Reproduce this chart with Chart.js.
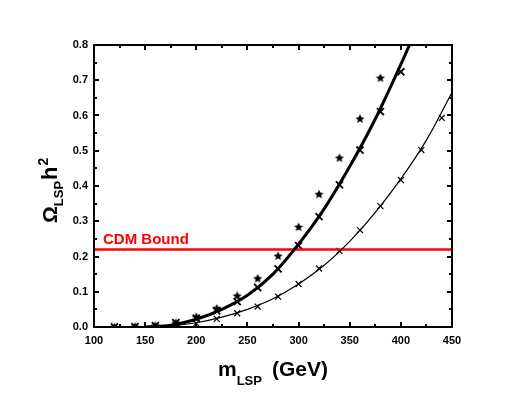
<!DOCTYPE html>
<html><head><meta charset="utf-8">
<script src="https://cdn.jsdelivr.net/npm/chart.js@4.4.1/dist/chart.umd.min.js"></script>
<style>html,body{margin:0;padding:0;background:#fff}#w{width:526px;height:393px}</style>
</head><body><div id="w"><canvas id="c"></canvas></div>
<script>
// ---- data ----
const starMass = [120,140,160,180,200,220,240,260,280,300,320,340,360,380];
const starOmega = [0.000,0.001,0.004,0.012,0.029,0.053,0.089,0.138,0.202,0.284,0.377,0.480,0.591,0.707];
const thickMass = [120,140,160,180,200,220,240,260,280,300,320,340,360,380,400];
const thickOmega = [0.000,0.001,0.004,0.012,0.025,0.046,0.072,0.112,0.165,0.231,0.313,0.403,0.502,0.611,0.724];
const thinMass = [180,200,220,240,260,280,300,320,340,360,380,400,420,440];
const thinOmega = [0.004,0.010,0.023,0.039,0.058,0.086,0.122,0.166,0.216,0.275,0.343,0.417,0.502,0.593];
const curveMass = [150,175,200,225,250,275,300,325,350,375,400,425];
const thickCurve = [0.000,0.005,0.022,0.050,0.090,0.150,0.235,0.335,0.455,0.590,0.745,0.910];
const thinCurveMass = [150,175,200,225,250,275,300,325,350,375,400,425,450];
const thinCurve = [0.000,0.003,0.012,0.028,0.050,0.080,0.122,0.175,0.243,0.325,0.420,0.530,0.665];
const cdmBound = 0.22;
const xRange = [100,450];
const yRange = [0,0.8];

const pts = (xs, ys) => xs.map((x,i)=>({x:x,y:ys[i]}));

// filled star marker
const starImg = document.createElement('canvas');
starImg.width = 10; starImg.height = 10;
(function(){
  const g = starImg.getContext('2d');
  g.fillStyle = '#000'; g.beginPath();
  for (let i=0;i<10;i++){
    const r = i%2===0 ? 4.8 : 2.2;
    const a = -Math.PI/2 + i*Math.PI/5;
    const px = 5 + r*Math.cos(a), py = 5.4 + r*Math.sin(a);
    i===0 ? g.moveTo(px,py) : g.lineTo(px,py);
  }
  g.closePath(); g.fill();
})();

const F = '"Liberation Sans", Arial, sans-serif';

const decor = {
  id:'decor',
  afterDraw(chart){
    const {ctx, chartArea:a, scales:{x,y}} = chart;
    ctx.save();
    ctx.strokeStyle = '#000'; ctx.lineWidth = 2;
    ctx.strokeRect(a.left, a.top, a.right-a.left, a.bottom-a.top);
    ctx.lineWidth = 2;
    for (let v=xRange[0]; v<=xRange[1]; v+=25){
      const px = Math.round(x.getPixelForValue(v));
      const L = (v%50===0)?5:3;
      ctx.beginPath();
      ctx.moveTo(px,a.bottom); ctx.lineTo(px,a.bottom-L);
      ctx.moveTo(px,a.top); ctx.lineTo(px,a.top+L);
      ctx.stroke();
    }
    for (let k=0; k<=16; k++){
      const v = k*0.05;
      const py = Math.round(y.getPixelForValue(v));
      const L = (k%2===0)?5:3;
      ctx.beginPath();
      ctx.moveTo(a.left,py); ctx.lineTo(a.left+L,py);
      ctx.moveTo(a.right,py); ctx.lineTo(a.right-L,py);
      ctx.stroke();
    }
    // CDM label
    ctx.fillStyle = '#ff0000';
    ctx.font = 'bold 15px '+F;
    ctx.textBaseline = 'alphabetic'; ctx.textAlign='left';
    ctx.fillText('CDM Bound', a.left+9, y.getPixelForValue(cdmBound)-5);
    // x title
    ctx.fillStyle = '#000';
    ctx.font = 'bold 21px '+F;
    let tx = 218, by = 376;
    ctx.fillText('m', tx, by); tx += ctx.measureText('m').width;
    ctx.font = 'bold 13px '+F;
    ctx.fillText('LSP', tx, by+9);
    ctx.font = 'bold 21px '+F;
    ctx.textAlign = 'right';
    ctx.fillText('(GeV)', 328, by);
    ctx.textAlign = 'left';
    // y title
    ctx.translate(57, 223); ctx.rotate(-Math.PI/2);
    let t = 0;
    ctx.font = 'bold 21px '+F;
    ctx.fillText('\u03A9', t, 0); t += ctx.measureText('\u03A9').width;
    ctx.font = 'bold 13px '+F;
    ctx.fillText('LSP', t, 6); t += ctx.measureText('LSP').width+1;
    ctx.font = 'bold 22px '+F;
    ctx.fillText('h', t, 0); t += ctx.measureText('h').width+1;
    ctx.font = 'bold 14px '+F;
    ctx.fillText('2', t, -9);
    ctx.restore();
  }
};

new Chart(document.getElementById('c'), {
  type:'scatter',
  data:{datasets:[
    {data:pts(thinCurveMass, thinCurve), showLine:true, borderColor:'#000', borderWidth:1.2, pointRadius:0, tension:0.4, cubicInterpolationMode:'monotone', fill:false},
    {data:pts(curveMass, thickCurve), showLine:true, borderColor:'#000', borderWidth:3, pointRadius:0, tension:0.4, cubicInterpolationMode:'monotone', fill:false},
    {data:[{x:xRange[0],y:cdmBound},{x:xRange[1],y:cdmBound}], showLine:true, borderColor:'#ff0000', borderWidth:2.5, pointRadius:0},
    {data:pts(thinMass, thinOmega), pointStyle:'crossRot', pointRadius:4.2, borderColor:'#000', borderWidth:1.2, showLine:false},
    {data:pts(thickMass, thickOmega), pointStyle:'crossRot', pointRadius:5, borderColor:'#000', borderWidth:1.8, showLine:false},
    {data:pts(starMass, starOmega), pointStyle:starImg, pointRadius:5, showLine:false}
  ]},
  options:{
    responsive:true, maintainAspectRatio:false, animation:false,
    layout:{padding:{left:0,top:45,right:74,bottom:0}},
    plugins:{legend:{display:false}, tooltip:{enabled:false}},
    scales:{
      x:{type:'linear', min:xRange[0], max:xRange[1],
        border:{display:false}, grid:{display:false, drawTicks:false},
        ticks:{stepSize:50, padding:7, color:'#000', font:{family:F, size:11, weight:'bold'}, maxRotation:0},
        afterFit(s){ s.height = 66; }},
      y:{min:yRange[0], max:yRange[1],
        border:{display:false}, grid:{display:false, drawTicks:false},
        ticks:{stepSize:0.1, padding:6, color:'#000', font:{family:F, size:11, weight:'bold'}, callback:v=>v.toFixed(1)},
        afterFit(s){ s.width = 94; }}
    }
  },
  plugins:[decor]
});
</script></body></html>
